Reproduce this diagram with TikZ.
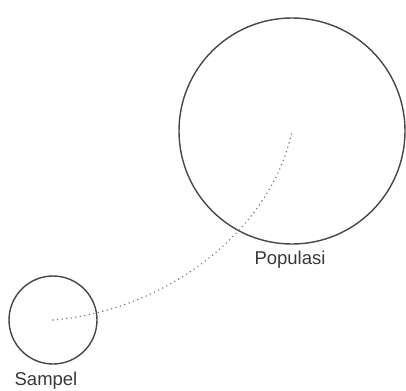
\documentclass[tikz,border=0pt]{standalone}
\usepackage{fontspec}
\setmainfont{Liberation Sans}
\begin{document}
\begin{tikzpicture}[x=1pt,y=-1pt,
  ring/.style={circle,draw=black!72,line width=1.4pt,inner sep=0pt},
  lbl/.style={text=black!78,font=\fontsize{18.5}{20}\selectfont,inner sep=0pt},
  dotline/.style={draw=black!55,line width=1.6pt,line cap=round,dash pattern=on 0pt off 4.6pt}]
\useasboundingbox (0,0) rectangle (406,390);
\node[ring,minimum size=226pt] (pop) at (292,131) {};
\node[ring,minimum size=88pt] (samp) at (53,320) {};
\node[lbl] (poplbl) at (290,260) {Populasi};
\node[lbl] (samplbl) at (46,381) {Sampel};
\draw[dotline] (samp.center) .. controls (170,310) and (272,228) .. (pop.center);
\end{tikzpicture}
\end{document}
